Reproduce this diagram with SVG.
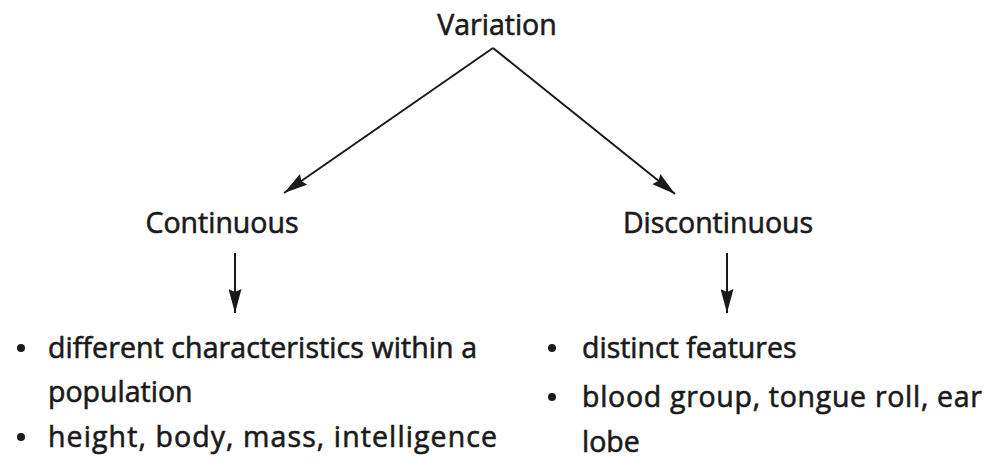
<svg xmlns="http://www.w3.org/2000/svg" width="985" height="469" viewBox="0 0 985 469">
<style>
text{font-family:"Open Sans","DejaVu Sans",sans-serif;font-size:28.5px;fill:#1a1a1a;stroke:#1a1a1a;stroke-width:0.6}
.c{stroke:#1a1a1a;stroke-width:2;fill:none}
</style>
<defs>
<marker id="ah2" viewBox="0 0 24 13" refX="24" refY="6.5" markerWidth="24" markerHeight="13" markerUnits="userSpaceOnUse" orient="auto">
<path d="M0,0 L24,6.5 L0,13 L3,6.5 z" fill="#1a1a1a"/>
</marker>
</defs>
<rect width="985" height="469" fill="#ffffff"/>
<g id="connectors">
<line class="c" x1="493" y1="48" x2="284" y2="193" marker-end="url(#ah2)"/>
<line class="c" x1="493" y1="48" x2="675" y2="194" marker-end="url(#ah2)"/>
<line class="c" x1="235" y1="253" x2="235" y2="313" marker-end="url(#ah2)"/>
<line class="c" x1="727" y1="253" x2="727" y2="313" marker-end="url(#ah2)"/>
</g>
<g id="variation"><text x="497" y="35" text-anchor="middle">Variation</text></g>
<g id="continuous"><text x="222" y="233" text-anchor="middle">Continuous</text></g>
<g id="discontinuous"><text x="718" y="233" text-anchor="middle">Discontinuous</text></g>
<g id="continuous-list">
<circle cx="21" cy="348" r="4" fill="#1a1a1a"/>
<text x="48" y="358" textLength="429" lengthAdjust="spacing">different characteristics within a</text>
<text x="48" y="402">population</text>
<circle cx="21" cy="437" r="4" fill="#1a1a1a"/>
<text x="48" y="447" textLength="449" lengthAdjust="spacing">height, body, mass, intelligence</text>
</g>
<g id="discontinuous-list">
<circle cx="552" cy="348" r="4" fill="#1a1a1a"/>
<text x="582" y="358">distinct features</text>
<circle cx="552" cy="397" r="4" fill="#1a1a1a"/>
<text x="582" y="407" textLength="400" lengthAdjust="spacing">blood group, tongue roll, ear</text>
<text x="582" y="452">lobe</text>
</g>
</svg>
